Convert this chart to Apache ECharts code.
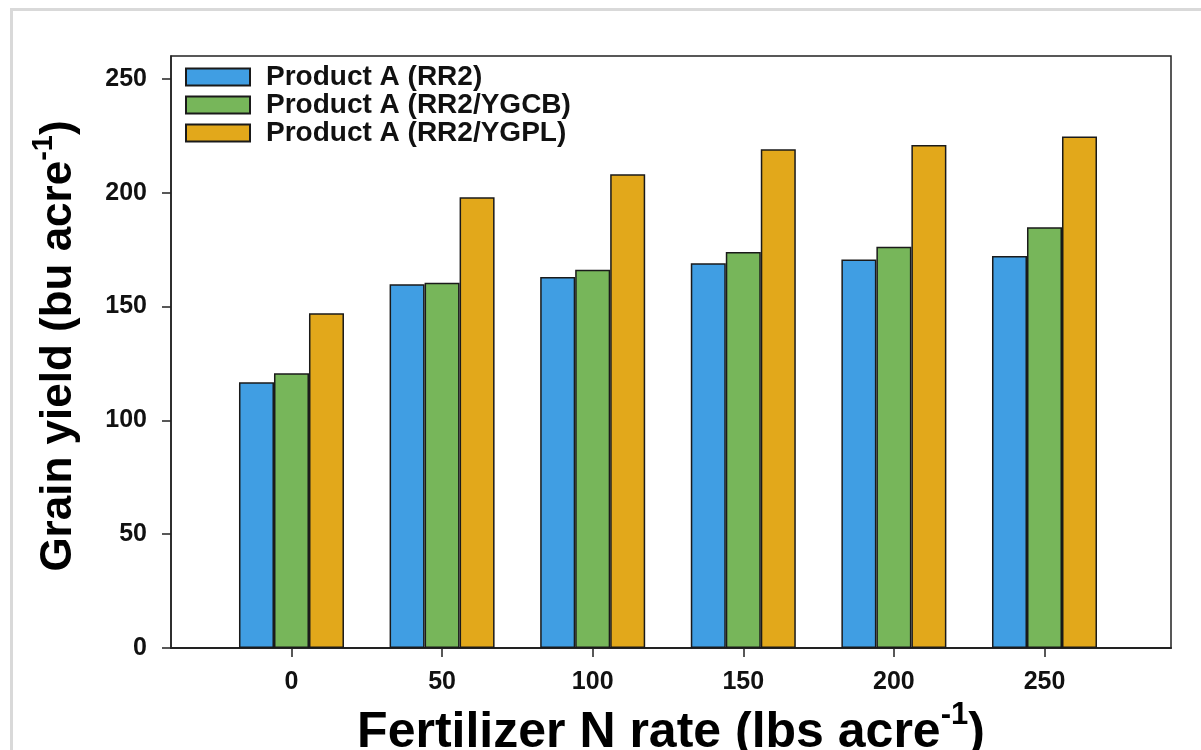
<!DOCTYPE html>
<html>
<head>
<meta charset="utf-8">
<style>
  html, body { margin: 0; padding: 0; background: #ffffff; width: 1201px; height: 750px; overflow: hidden; }
  #frame { position: absolute; left: 10px; top: 8px; width: 1400px; height: 1000px; border: 3px solid #d9d9d9; box-sizing: border-box; }
  #chart { position: absolute; left: 0; top: 0; width: 1201px; height: 750px; }
</style>
<script src="https://cdn.jsdelivr.net/npm/echarts@6/dist/echarts.min.js"></script>
</head>
<body>
<div id="frame"></div>
<div id="chart"></div>
<script>
// ---- data ----
const nRates = [0, 50, 100, 150, 200, 250];
const seriesNames = ['Product A (RR2)', 'Product A (RR2/YGCB)', 'Product A (RR2/YGPL)'];
const rr2  = [116.7, 159.8, 162.9, 169.0, 170.6, 172.2];
const ygcb = [120.7, 160.4, 166.1, 173.9, 176.2, 184.8];
const ygpl = [147.0, 198.0, 208.1, 219.1, 220.9, 224.7];
const xTicks = [0, 50, 100, 150, 200, 250];
const yTicks = [0, 50, 100, 150, 200, 250];
const colors = ['#409ee3', '#77b65a', '#e2a81b'];

const font = 'Liberation Sans, Arial, sans-serif';
const chart = echarts.init(document.getElementById('chart'), null, { renderer: 'canvas' });

function mk(name, vals, color) {
  return {
    name: name,
    type: 'bar',
    data: nRates.map((x, i) => [x, vals[i]]),
    barWidth: 35,
    barGap: '0%',
    itemStyle: { color: color, borderColor: '#1a1a1a', borderWidth: 1.5 },
    emphasis: { disabled: true },
    animation: false
  };
}

chart.setOption({
  animation: false,
  textStyle: { fontFamily: font },
  grid: {
    left: 171, right: 30, top: 56, bottom: 102,
    outerBoundsMode: 'none',
    containLabel: false,
    show: true, borderColor: '#222', borderWidth: 1.5, backgroundColor: 'transparent'
  },
  legend: {
    orient: 'vertical',
    left: 185, top: 63,
    padding: 0,
    itemWidth: 64, itemHeight: 17, itemGap: 0,
    selectedMode: false,
    icon: 'rect',
    data: seriesNames,
    textStyle: { fontFamily: font, fontWeight: 'bold', fontSize: 28, color: '#111', padding: [0, 0, 0, 11] }
  },
  xAxis: {
    type: 'value',
    min: -40, max: 292,
    splitLine: { show: false },
    axisLine: { show: true, onZero: false, lineStyle: { color: '#222', width: 2 } },
    axisTick: { show: true, length: 9, lineStyle: { color: '#222', width: 1.5 }, customValues: xTicks },
    axisLabel: { customValues: xTicks, fontFamily: font, fontWeight: 'bold', fontSize: 25, color: '#111', margin: 22 },
    name: '{a|Fertilizer N rate (lbs acre}{s|-1}{a|)}',
    nameLocation: 'middle',
    nameGap: 47,
    nameTextStyle: {
      rich: {
        a: { fontFamily: font, fontWeight: 'bold', fontSize: 50, color: '#000', lineHeight: 58, verticalAlign: 'bottom' },
        s: { fontFamily: font, fontWeight: 'bold', fontSize: 31, color: '#000', lineHeight: 31, verticalAlign: 'top' }
      }
    }
  },
  yAxis: {
    type: 'value',
    min: 0, max: 260,
    splitLine: { show: false },
    axisLine: { show: true, onZero: false, lineStyle: { color: '#222', width: 1.5 } },
    axisTick: { show: true, length: 9, lineStyle: { color: '#222', width: 1.5 }, customValues: yTicks },
    axisLabel: { customValues: yTicks, fontFamily: font, fontWeight: 'bold', fontSize: 25, color: '#111', margin: 24 },
    name: '{a|Grain yield (bu acre}{s|-1}{a|)}',
    nameLocation: 'middle',
    nameGap: 90,
    nameRotate: 90,
    nameTextStyle: {
      padding: [0, 0, 0, 12],
      rich: {
        a: { fontFamily: font, fontWeight: 'bold', fontSize: 44, color: '#000', lineHeight: 52, verticalAlign: 'bottom' },
        s: { fontFamily: font, fontWeight: 'bold', fontSize: 29, color: '#000', lineHeight: 29, verticalAlign: 'top' }
      }
    }
  },
  series: [
    mk(seriesNames[0], rr2, colors[0]),
    mk(seriesNames[1], ygcb, colors[1]),
    mk(seriesNames[2], ygpl, colors[2])
  ]
});
</script>
</body>
</html>
